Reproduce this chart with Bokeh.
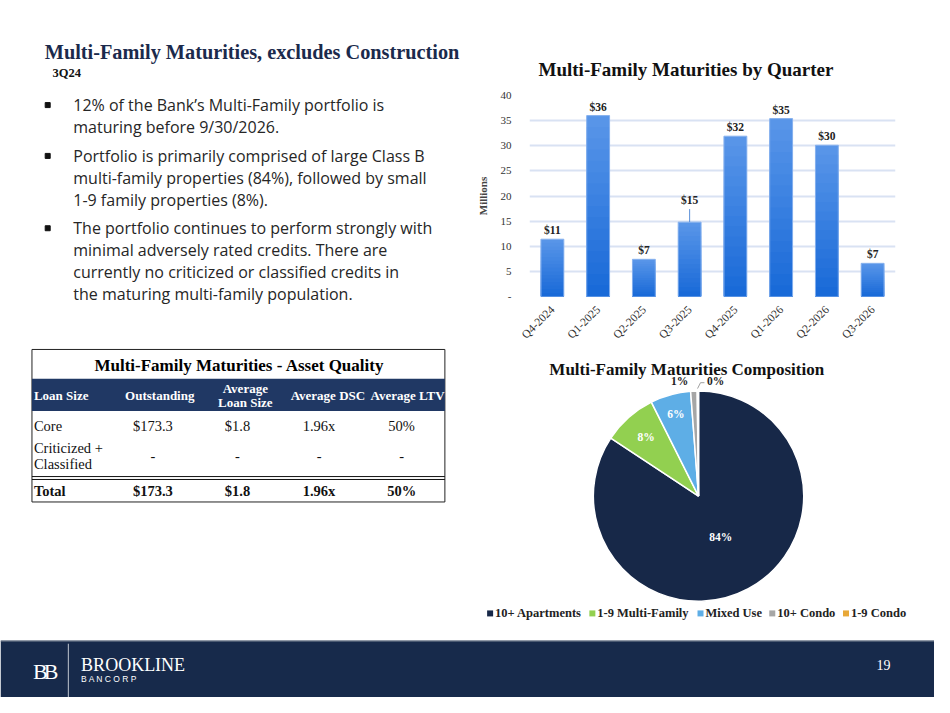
import math
from bokeh.plotting import figure
from bokeh.models import Range1d, FactorRange, FixedTicker
from bokeh.layouts import column, row
from bokeh.core.properties import value
from bokeh.embed import file_html
from bokeh.resources import INLINE

# ------------------------------------------------------------------ data
page_title = "Multi-Family Maturities, excludes Construction"
page_subtitle = "3Q24"
bullets = [
    ["12% of the Bank\u2019s Multi-Family portfolio is",
     "maturing before 9/30/2026."],
    ["Portfolio is primarily comprised of large Class B",
     "multi-family properties (84%), followed by small",
     "1-9 family properties (8%)."],
    ["The portfolio continues to perform strongly with",
     "minimal adversely rated credits. There are",
     "currently no criticized or classified credits in",
     "the maturing multi-family population."],
]

bar_title = "Multi-Family Maturities by Quarter"
quarters = ["Q4-2024", "Q1-2025", "Q2-2025", "Q3-2025",
            "Q4-2025", "Q1-2026", "Q2-2026", "Q3-2026"]
maturities = [11.4, 36.0, 7.4, 14.8, 31.9, 35.4, 30.1, 6.6]   # $ millions
y_ticks = [0, 5, 10, 15, 20, 25, 30, 35, 40]
y_tick_labels = ["-", "5", "10", "15", "20", "25", "30", "35", "40"]
y_axis_label = "Millions"

pie_title = "Multi-Family Maturities Composition"
segments = ["10+ Apartments", "1-9 Multi-Family", "Mixed Use", "10+ Condo", "1-9 Condo"]
shares = [84.3, 8.3, 6.2, 1.0, 0.2]

table_title = "Multi-Family Maturities - Asset Quality"
table_headers = ["Loan Size", "Outstanding", "Average\nLoan Size", "Average DSC", "Average LTV"]
table_rows = [
    ["Core", "$173.3", "$1.8", "1.96x", "50%"],
    ["Criticized +\nClassified", "-", "-", "-", "-"],
]
table_total = ["Total", "$173.3", "$1.8", "1.96x", "50%"]

footer_name = "BROOKLINE"
footer_sub = "B A N C O R P"
page_number = "19"

# ------------------------------------------------------------------ style
SERIF = "Liberation Serif"
SANS = "Open Sans"
NAVY = "#172a4b"
HEAD = "#203864"
seg_colors = ["#172848", "#92d050", "#5eaee6", "#a6a6a6", "#e8a838"]


def canvas(w, h, xr, yr):
    p = figure(width=w, height=h, x_range=Range1d(*xr), y_range=Range1d(*yr),
               output_backend="svg", toolbar_location=None, min_border=0,
               x_axis_location=None, y_axis_location=None)
    p.grid.visible = False
    p.outline_line_color = None
    p.background_fill_color = "white"
    p.border_fill_color = "white"
    return p


def txt(p, x, y, s, size, font=SERIF, style="normal", color="black",
        align="left", baseline="middle"):
    p.text(x=[x], y=[y], text=[s], text_font=value(font),
           text_font_size=value(f"{size}px"), text_font_style=style,
           text_color=color, text_align=align, text_baseline=baseline)


# ------------------------------------------------------------------ top-left panel (slide px, y down)
top = canvas(472, 347, (0, 480), (355, 0))
txt(top, 45, 53, page_title, 20.3, style="bold", color="#1b2a4c", baseline="alphabetic")
txt(top, 53, 74, page_subtitle, 12.5, style="bold", color="#111111")

para_top = [107, 159, 233]
line_h = 22.3
for para, y0 in zip(bullets, para_top):
    top.scatter(x=[48], y=[y0], marker="square", size=5, color="#111111")
    for i, line in enumerate(para):
        txt(top, 74, y0 + i * line_h, line, 16, font=SANS, color="#262626")

# ------------------------------------------------------------------ bar chart
bar = figure(width=462, height=347,
             x_range=FactorRange(*quarters), y_range=Range1d(0, 40),
             output_backend="svg", toolbar_location=None,
             min_border_left=57, min_border_right=39, min_border_top=95, min_border_bottom=49)
bar.outline_line_color = None
bar.background_fill_color = "white"
bar.border_fill_color = "white"
bar.xgrid.grid_line_color = None
bar.ygrid.ticker = FixedTicker(ticks=y_ticks)
bar.ygrid.grid_line_color = "#d9e2f3"
bar.ygrid.grid_line_width = 2

c_top = (0x58, 0x95, 0xe8)
c_bot = (0x15, 0x67, 0xd7)
N = 16
for k in range(N):
    f = k / N
    col = "#%02x%02x%02x" % tuple(int(round(a + (b - a) * f)) for a, b in zip(c_top, c_bot))
    bar.vbar(x=quarters, top=[v * (1 - f) for v in maturities], width=0.5,
             fill_color=col, line_color=None)
bar.vbar(x=quarters, top=maturities, width=0.5, fill_color=None,
         line_color="#86b1ee", line_width=1)

LEADER_I = 3
LEADER_LEN = 2.6
lab_y = [v + (LEADER_LEN if i == LEADER_I else 0) for i, v in enumerate(maturities)]
bar.text(x=quarters, y=lab_y, text=[f"${round(v)}" for v in maturities],
         text_font=value(SERIF), text_font_size=value("11.5px"), text_font_style="bold",
         text_color="#222222", text_align="center", text_baseline="bottom", y_offset=-3)
bar.segment(x0=[quarters[LEADER_I]], y0=[maturities[LEADER_I]],
            x1=[quarters[LEADER_I]], y1=[maturities[LEADER_I] + LEADER_LEN],
            line_color="#5b8fd9", line_width=1)

bar.yaxis.ticker = FixedTicker(ticks=y_ticks)
bar.yaxis.major_label_overrides = {t: s for t, s in zip(y_ticks, y_tick_labels)}
bar.yaxis.axis_label = y_axis_label
bar.yaxis.axis_label_text_font = SERIF
bar.yaxis.axis_label_text_font_style = "bold"
bar.yaxis.axis_label_text_font_size = "11px"
bar.yaxis.axis_label_standoff = 9
bar.yaxis.major_label_standoff = 12
for ax in (bar.xaxis, bar.yaxis):
    ax.axis_line_color = None
    ax.major_tick_line_color = None
    ax.minor_tick_line_color = None
    ax.major_label_text_font = SERIF
    ax.major_label_text_color = "#333333"
bar.yaxis.major_label_text_font_size = "11px"
bar.xaxis.major_label_text_font_size = "11.5px"
bar.xaxis.major_label_orientation = math.pi / 4
bar.xaxis.major_label_standoff = 5

bar.title.text = bar_title
bar.title.align = "left"
bar.title.offset = 9
bar.title.standoff = 32
bar.title.text_font = SERIF
bar.title.text_font_size = "19px"
bar.title.text_font_style = "bold"
bar.title.text_color = "#111111"

# ------------------------------------------------------------------ bottom panel (y up, Y = 713 - slide px)
bot = canvas(934, 350, (0, 950), (0, 358))
Y = lambda sy: 713 - sy

# table
T_L, T_R = 32, 452
bot.quad(left=[T_L], right=[T_R], top=[Y(357)], bottom=[Y(513)],
         fill_color=None, line_color="#222222", line_width=1)
txt(bot, 243, Y(373), table_title, 17, style="bold", align="center")
bot.quad(left=[T_L], right=[T_R], top=[Y(387)], bottom=[Y(420)],
         fill_color=HEAD, line_color=None)
head_x = [34, 162, 249, 333, 414]
val_x = [34, 155, 241, 324, 408]
for j, h in enumerate(table_headers):
    lines = h.split("\n")
    al = "left" if j == 0 else "center"
    for k, ln in enumerate(lines):
        yy = 404 + (k - (len(lines) - 1) / 2) * 15
        txt(bot, head_x[j], Y(yy), ln, 13, style="bold", color="white", align=al)

row_y = [435, 466]
for r, yr in zip(table_rows, row_y):
    for j, cell in enumerate(r):
        lines = cell.split("\n")
        al = "left" if j == 0 else "center"
        for k, ln in enumerate(lines):
            yy = yr + (k - (len(lines) - 1) / 2) * 15.5
            txt(bot, val_x[j], Y(yy), ln, 14.5, color="#111111", align=al)

bot.segment(x0=[T_L, T_L], y0=[Y(487), Y(490)], x1=[T_R, T_R], y1=[Y(487), Y(490)],
            line_color="#111111", line_width=1)
for j, cell in enumerate(table_total):
    al = "left" if j == 0 else "center"
    txt(bot, val_x[j], Y(502), cell, 14.5, style="bold", color="#111111", align=al)

# pie
txt(bot, 698, Y(378), pie_title, 17, style="bold", color="#111111", align="center")
CX, CY, R = 710, Y(507), 107
tot = sum(shares)
cum = [0.0]
for s in shares:
    cum.append(cum[-1] + s / tot)
starts = [math.pi / 2 - 2 * math.pi * cum[i + 1] for i in range(len(shares))]
ends = [math.pi / 2 - 2 * math.pi * cum[i] for i in range(len(shares))]
bot.wedge(x=CX, y=CY, radius=R, start_angle=starts, end_angle=ends,
          fill_color=seg_colors, line_color="white", line_width=1.5)

r_fac = [0.445, 0.75, 0.81, 1.1, 1.1]
x_shift = [0, 0, 0, -14, 18]
lab_col = ["white", "white", "white", "#222222", "#222222"]
for i, s in enumerate(shares):
    phi = 2 * math.pi * (cum[i] + cum[i + 1]) / 2
    lx = CX + R * r_fac[i] * math.sin(phi) + x_shift[i]
    ly = CY + R * r_fac[i] * math.cos(phi)
    txt(bot, lx, ly, f"{round(s)}%", 11.5, style="bold", color=lab_col[i], align="center")
bot.line(x=[709, 712, 716], y=[Y(397), Y(391), Y(391)], line_color="#a0a0a0", line_width=1)

leg_x = [498, 602, 712, 785, 860]
bot.scatter(x=leg_x, y=[Y(627)] * len(leg_x), marker="square", size=6,
            fill_color=seg_colors, line_color=None)
for lx, name in zip(leg_x, segments):
    txt(bot, lx + 5, Y(627), name, 12.5, style="bold", color="#222222")

# footer
bot.quad(left=[0], right=[950], top=[Y(655)], bottom=[Y(713)], fill_color=NAVY, line_color=None)
bot.segment(x0=[0], y0=[Y(655)], x1=[950], y1=[Y(655)], line_color="#7f8898", line_width=1.2)
txt(bot, 33, Y(686), "B", 22, color="white", baseline="alphabetic")
txt(bot, 44, Y(686), "B", 22, color="white", baseline="alphabetic")
bot.segment(x0=[69], y0=[Y(658)], x1=[69], y1=[Y(713)], line_color="#c0c6d0", line_width=1)
txt(bot, 82, Y(680), footer_name, 18, color="white", baseline="alphabetic")
txt(bot, 82, Y(694), footer_sub, 8.5, font="Liberation Sans", color="white", baseline="alphabetic")
txt(bot, 898, Y(680), page_number, 14, color="white", align="center")

layout = column(row(top, column(bar)), bot)
open("out.html", "w").write(file_html(layout, INLINE))
